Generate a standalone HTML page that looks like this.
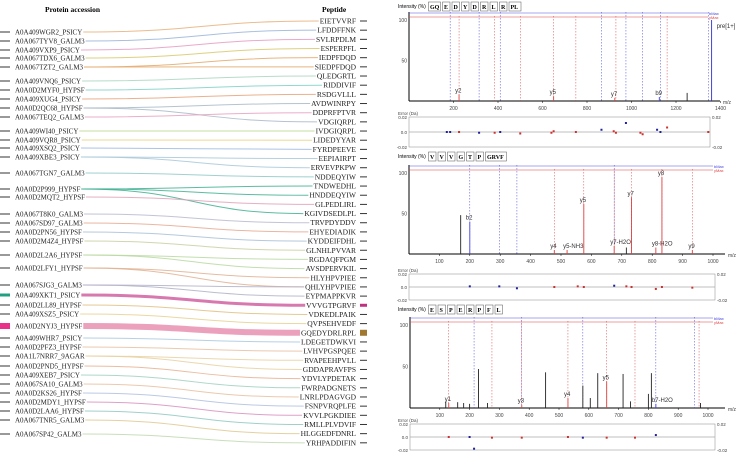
<!DOCTYPE html>
<html><head><meta charset="utf-8">
<style>
body{margin:0;background:#fff;width:738px;height:452px;overflow:hidden}
svg{display:block}
text{font-family:"Liberation Serif",serif}
.s{font-family:"Liberation Sans",sans-serif}
</style></head>
<body>
<svg id="c" width="738" height="452">
<g id="links"></g>
<text x="45" y="12" font-size="7.5" font-weight="bold">Protein accession</text>
<text x="322" y="12" font-size="7.5" font-weight="bold">Peptide</text>
</svg>
<script>
const proteins=["A0A409WGR2_PSICY","A0A067TYV8_GALM3","A0A409VXP9_PSICY","A0A067TDX6_GALM3","A0A067TZT2_GALM3","A0A409VNQ6_PSICY","A0A0D2MYF0_HYPSF","A0A409XUG4_PSICY","A0A0D2QC68_HYPSF","A0A067TEQ2_GALM3","A0A409WI40_PSICY","A0A409VQR8_PSICY","A0A409XSQ2_PSICY","A0A409XBE3_PSICY","A0A067TGN7_GALM3","A0A0D2P999_HYPSF","A0A0D2MQT2_HYPSF","A0A067T8K0_GALM3","A0A067SD97_GALM3","A0A0D2PN56_HYPSF","A0A0D2M4Z4_HYPSF","A0A0D2L2A6_HYPSF","A0A0D2LFY1_HYPSF","A0A067SJG3_GALM3","A0A409XKT1_PSICY","A0A0D2LL89_HYPSF","A0A409XSZ5_PSICY","A0A0D2NYJ3_HYPSF","A0A409WHR7_PSICY","A0A0D2PFZ3_HYPSF","A0A1L7NRR7_9AGAR","A0A0D2PND5_HYPSF","A0A409XEB7_PSICY","A0A067SA10_GALM3","A0A0D2KS26_HYPSF","A0A0D2MDY1_HYPSF","A0A0D2LAA6_HYPSF","A0A067TNR5_GALM3","A0A067SP42_GALM3"];
const proteinY=[32,41,50,58,67,81,90,99,108,117,131,140,148,157,173,189,197,214,223,232,241,255,268,285,295,305,314,326,338,347,356,366,375,384,393,402,411,420,434];
const peptides=["EIETVVRF","LFDDFFNK","SVLRPDLM","ESPERPFL","IEDPFDQD","SIEDPFDQD","QLEDGRTL","RIDDIVIF","RSDGVLLL","AVDWINRPY","DDPRFPTVR","VDGIQRPL","IVDGIQRPL","LIDEDYYAR","FYRDPEEVE","EEPIAIRPT","ERVEVPKPW","NDDEQYIW","TNDWEDHL","HNDDEQYIW","GLPEDLIRL","KGIVDSEDLPL","TRVPDYDDV","EHYEDIADIK","KYDDEIFDHL","GLNHLPVVAR","RGDAQFPGM","AVSDPERVKIL","HLYHPVPIEE","QHLYHPVPIEE","EYPMAPPKVR","VVVGTPGRVF","VDKEDLPAIK","QVPSEHVEDF","GQEDYDRLRPL","LDEGETDWKVI","LVHVPGSPQEE","RVAPEEHPVLL","GDDAPRAVFPS","YDVLYPDETAK","FWRPADGNETS","LNRLPDAGVGD","FSNPVRQPLFE","KVVLPGKDIEE","RMLLPLVDVIF","HLGGEDFDNRL","YRHPADDIFIN"];
const linkFrom=[0,1,2,3,4,4,5,6,7,8,8,9,10,11,12,13,13,14,15,15,15,16,17,18,19,20,21,21,22,22,23,23,24,25,26,27,28,29,30,30,31,32,33,34,35,36,37,38];
const linkTo=[0,1,2,3,4,5,6,7,8,9,11,10,12,13,14,15,16,17,18,19,21,20,22,23,24,25,26,27,28,29,30,29,31,32,33,34,35,36,37,38,39,40,41,42,43,44,45,46];
const linkW=[1,1,1,1,1,1,1,1,1,1,1,1,1,1,1,1,1,1,1,1,1,1,1,1,1,1,1,1,1,1,1,1,3,1,1,6,1,1,1,1,1,1,1,1,1,1,1,1];
const colors=["#e8b07a","#9ab4d8","#e79ac0","#d8c86a","#e4a86a","#a9d6c0","#7fd0c8","#e8a27a","#a8b8c8","#e8a0c0","#b8d890","#e8d480","#9cb8e0","#a8c8d8","#90c8c8","#40b090","#e0a0b8","#b8b8d0","#e8a890","#a8c0d8","#c8d0a0","#b8d8a0","#e0b090","#b0b0c8","#d060a0","#e0c080","#e8d090","#e890b0","#a8c8e0","#e8c0a0","#e8d0a0","#e8b090","#a0d0c0","#e8c0a0","#b0c0e0","#d890c0","#90c8c0","#e0c890","#c0d8b0"];
const svg=document.getElementById('c');const NS="http://www.w3.org/2000/svg";
const linksG=document.getElementById('links');
function el(t,a,p){const e=document.createElementNS(NS,t);for(const k in a)e.setAttribute(k,a[k]);(p||svg).appendChild(e);return e;}
const pepY=i=>21+i*9.17;
const protEnd=[],pepStart=[];
proteins.forEach((p,i)=>{
  const d=el('line',{x1:0,x2:10,y1:proteinY[i],y2:proteinY[i],stroke:i==27?'#e8308a':(i==24?'#20a080':'#333'),'stroke-width':i==27?6:(i==24?3:1)});
  
  
  const t=el('text',{x:15,y:proteinY[i]+2.5,'font-size':7,fill:'#222'});t.textContent=p;
  
  
  protEnd[i]=15+t.getComputedTextLength()+1;
});
peptides.forEach((p,i)=>{
  const y=pepY(i);
  const t=el('text',{x:356,y:y+2.5,'font-size':7.5,'text-anchor':'end',fill:'#222'});t.textContent=p;
  
  
  pepStart[i]=356-t.getComputedTextLength()-1;
  const thick=i==31?3:(i==34?6:1);
  const d=el('line',{x1:360,x2:367,y1:y,y2:y,stroke:i==31?'#c03080':(i==34?'#a07830':'#333'),'stroke-width':thick});
  
  
});
linkFrom.forEach((f,k)=>{
  const y1=proteinY[f],y2=pepY(linkTo[k]);
  const x1=protEnd[f],x2=pepStart[linkTo[k]];
  const mx=(x1+x2)/2;
  const l=el('path',{d:`M${x1} ${y1} C${mx} ${y1} ${mx} ${y2} ${x2} ${y2}`,fill:'none',stroke:colors[f],'stroke-width':linkW[k],opacity:0.85},linksG);
  
  
});
const p1Title=["GQ","E","D","Y","D","R","L","R","PL"];
const p1Peaks=[[225,8,"y2"],[650,6,"y5"],[925,4,"y7"],[1125,5,"b9"],[1250,10,""],[1360,100,"pre[1+]"]];
const p1Blue=[185,315,410,865,975,1050,1130,1345];
const p1Red=[225,385,500,650,750,930,1160];
const p1Err=[[170,0.0,'b'],[185,0.0,'b'],[225,0.0,'r'],[315,-0.001,'b'],[385,-0.001,'r'],[410,0,'b'],[500,-0.002,'r'],[640,-0.001,'r'],[650,0.001,'r'],[750,0,'r'],[865,0.003,'b'],[920,0.001,'r'],[930,-0.001,'r'],[975,0.012,'b'],[1040,-0.001,'r'],[1050,-0.003,'r'],[1115,0.003,'b'],[1130,0,'b'],[1160,0.006,'r'],[1345,0,'r']];
const p2Title=["V","V","V","G","T","P","GRVF"];
const p2Peaks=[[170,48,""],[200,40,"b2"],[478,5,"y4"],[520,5,"y5-NH3"],[575,62,"y5"],[675,10,"y7-H2O"],[715,8,""],[732,70,"y7"],[812,8,"y8-H2O"],[832,95,"y8"],[932,5,"y9"]];
const p2Blue=[200,297,355,675];
const p2Red=[478,575,675,732,832,932];
const p2Err=[[200,0.001,'b'],[297,0.001,'b'],[355,-0.002,'b'],[478,0.0,'r'],[555,0.001,'r'],[575,0.0,'r'],[675,0.002,'b'],[715,0.001,'r'],[732,0,'r'],[812,-0.003,'r'],[832,0,'r'],[932,-0.001,'r']];
const p3Title=["E","S","P","E","R","P","F","L"];
const p3Peaks=[[120,8,""],[130,6,"y1"],[160,7,""],[180,6,""],[200,5,""],[230,47,""],[260,6,""],[375,4,"y3"],[455,43,""],[530,12,"y4"],[580,27,""],[605,12,""],[630,42,""],[660,32,"y5"],[715,41,""],[740,8,""],[800,17,""],[810,42,""],[825,5,"b7-H2O"],[975,6,""]];
const p3Blue=[215,375,580,825,955];
const p3Red=[130,275,375,530,660,755,970];
const p3Err=[[130,0,'r'],[200,0,'b'],[215,-0.018,'b'],[275,-0.001,'r'],[375,-0.001,'r'],[530,0,'r'],[580,-0.001,'b'],[660,-0.001,'r'],[755,-0.001,'r'],[825,0.003,'b']];
const panels=[
 {ty:8,title:p1Title,peaks:p1Peaks,blue:p1Blue,red:p1Red,err:p1Err,x0:409,sx:44.5/200,ticks:[200,400,600,800,1000,1200,1400],top:20,base:101,ax:720,ey0:117,ey1:147},
 {ty:158,title:p2Title,peaks:p2Peaks,blue:p2Blue,red:p2Red,err:p2Err,x0:409,sx:30.4/100,ticks:[100,200,300,400,500,600,700,800,900,1000],top:173,base:254,ax:725,ey0:274,ey1:300},
 {ty:311,title:p3Title,peaks:p3Peaks,blue:p3Blue,red:p3Red,err:p3Err,x0:410,sx:29.8/100,ticks:[100,200,300,400,500,600,700,800,900,1000],top:325,base:408,ax:725,ey0:424,ey1:450}];
panels.forEach((P,pi)=>{
  const g=el('g',{});
  const X=m=>P.x0+m*P.sx, Y=v=>P.base-(P.base-P.top)*v/100;
  const tt=el('text',{x:398,y:P.ty,'font-size':5,class:'s'},g);tt.textContent='Intensity (%)';
  
  let tx=430;P.title.forEach(a=>{const t=el('text',{x:tx,y:P.ty+1,'font-size':6,'font-weight':'bold'},g);t.textContent=a;
    
    el('rect',{x:tx-1.5,y:P.ty-6,width:a.length*4.5+3,height:9,fill:'none',stroke:'#555','stroke-width':0.5},g);tx+=a.length*4.5+5;});
  el('line',{x1:P.x0,x2:P.x0,y1:P.top-8,y2:P.base,stroke:'#000'},g);
  el('line',{x1:P.x0,x2:P.ax,y1:P.base,y2:P.base,stroke:'#000'},g);
  [[100,'100'],[50,'50']].forEach(([v,s])=>{const t=el('text',{x:P.x0-2,y:Y(v)+2,'font-size':5,'text-anchor':'end',class:'s',fill:'#444'},g);t.textContent=s;
    });
  P.ticks.forEach(v=>{el('line',{x1:X(v),x2:X(v),y1:P.base,y2:P.base+2,stroke:'#000','stroke-width':0.5},g);
    const t=el('text',{x:X(v),y:P.base+9,'font-size':5,'text-anchor':'middle',class:'s',fill:'#444'},g);t.textContent=v;
    });
  const mz=el('text',{x:P.ax+3,y:P.base+3,'font-size':5,class:'s',fill:'#444'},g);mz.textContent='m/z';
  
  el('line',{x1:P.x0,x2:P.ax-12,y1:P.top-7,y2:P.top-7,stroke:'#5050e0','stroke-width':0.6},g);
  el('line',{x1:P.x0,x2:P.ax-12,y1:P.top-3,y2:P.top-3,stroke:'#e04040','stroke-width':0.6},g);
  const bl=el('text',{x:P.ax-11,y:P.top-5,'font-size':4,fill:'#4040e0',class:'s'},g);bl.textContent='bMax';
  const rl=el('text',{x:P.ax-11,y:P.top-1,'font-size':4,fill:'#e04040',class:'s'},g);rl.textContent='yMax';
  P.blue.forEach(m=>el('line',{x1:X(m),x2:X(m),y1:P.top-8,y2:P.base,stroke:'#4040e0','stroke-width':0.5,'stroke-dasharray':'1.5,1.5'},g));
  P.red.forEach(m=>el('line',{x1:X(m),x2:X(m),y1:P.top-4,y2:P.base,stroke:'#e04040','stroke-width':0.5,'stroke-dasharray':'1.5,1.5'},g));
  P.peaks.forEach(([m,v,l])=>{const c=l.startsWith('y')?'#e04040':(l.startsWith('b')?'#4040e0':'#222');
    const b=el('line',{x1:X(m),x2:X(m),y1:Y(v),y2:P.base,stroke:l.startsWith('pre')?'#3030d0':c,'stroke-width':0.9},g);
    
    if(l){const t=el('text',{x:X(m)+(l.startsWith('pre')?5:-4),y:l.startsWith('pre')?P.top+8:Y(v)-2,'font-size':6,class:'s',fill:'#333'},g);t.textContent=l;
      }});
  el('rect',{x:P.x0,y:P.ey0,width:P.ax-P.x0-10,height:P.ey1-P.ey0,fill:'none',stroke:'#888','stroke-width':0.5},g);
  const ez=(P.ey0+P.ey1)/2, EY=v=>ez-v/0.02*(P.ey1-P.ey0)/2;
  el('line',{x1:P.x0,x2:P.ax-10,y1:ez,y2:ez,stroke:'#aaa','stroke-width':0.8},g);
  const et=el('text',{x:398,y:P.ey0-2,'font-size':4.5,class:'s',fill:'#444'},g);et.textContent='Error (Da)';
  [['0.02',P.ey0],['0.0',ez],['-0.02',P.ey1]].forEach(([s,y])=>{const t=el('text',{x:P.x0-2,y:y+2,'font-size':4.5,'text-anchor':'end',class:'s',fill:'#444'},g);t.textContent=s;
    const t2=el('text',{x:P.ax-8,y:y+2,'font-size':4.5,class:'s',fill:'#444'},g);t2.textContent=s.startsWith('-')?'-0.02':(s=='0.0'?'':'0.02');});
  P.err.forEach(([m,v,c])=>{const r=el('rect',{x:X(m)-1,y:EY(v)-1,width:2,height:2,fill:c=='b'?'#2020a0':'#d03030'},g);
    });
});
</script>
</body></html>
